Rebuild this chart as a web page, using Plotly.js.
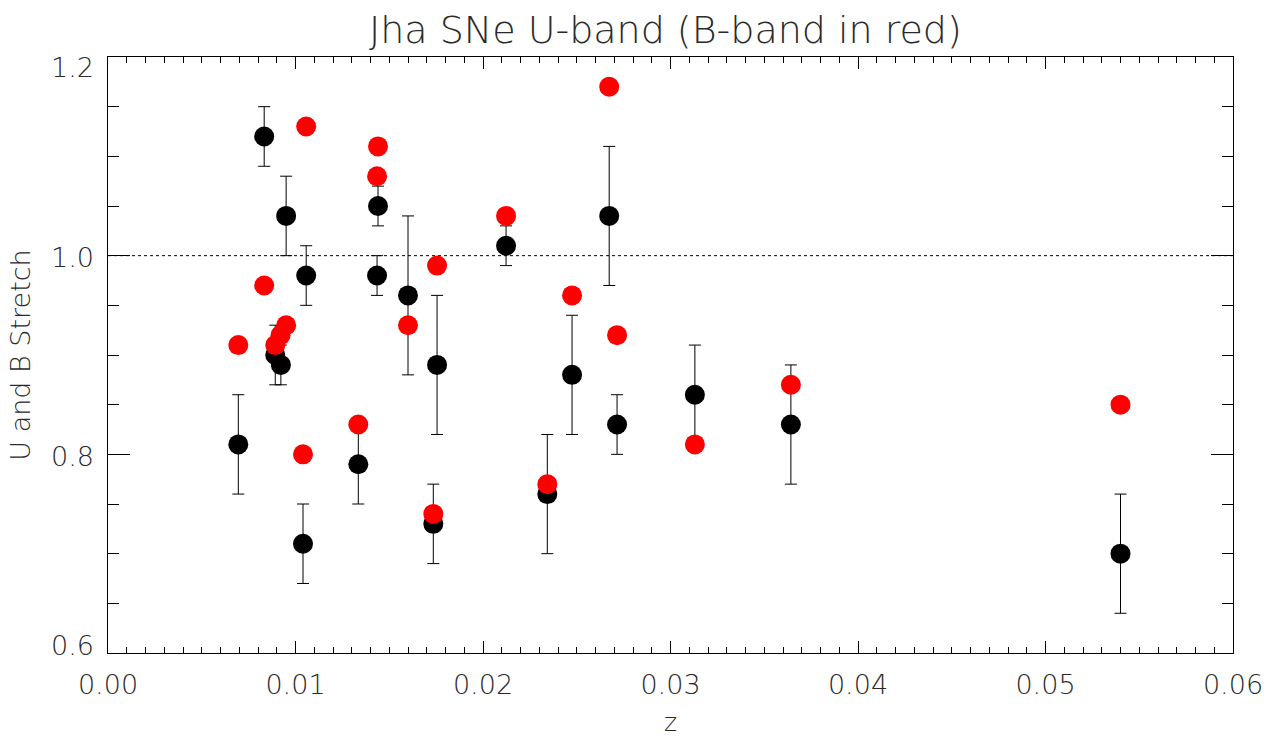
<!DOCTYPE html>
<html><head><meta charset="utf-8">
<script src="https://cdn.plot.ly/plotly-3.0.1.min.js"></script>
<style>html,body{margin:0;padding:0;background:#fff}#chart{width:1265px;height:740px}</style>
</head><body><div id="chart"></div>
<script>
// U-band (black, with errors)
const zU =   [0.00695,0.00833,0.0095,0.01057,0.0104,0.00892,0.00922,0.01335,0.01435,0.0144,0.0160,0.01755,0.01735,0.02123,0.02343,0.02475,0.02673,0.02715,0.0313,0.03642,0.0540];
const sU =   [0.81,1.12,1.04,0.98,0.71,0.90,0.89,0.79,0.98,1.05,0.96,0.89,0.73,1.01,0.76,0.88,1.04,0.83,0.86,0.83,0.70];
const errU = [0.05,0.03,0.04,0.03,0.04,0.03,0.02,0.04,0.02,0.02,0.08,0.07,0.04,0.02,0.06,0.06,0.07,0.03,0.05,0.06,0.06];
// B-band (red)
const zB =   [0.00695,0.00833,0.00892,0.0092,0.0095,0.01057,0.0104,0.01335,0.01435,0.0144,0.0160,0.01755,0.01735,0.02123,0.02343,0.02475,0.02673,0.02715,0.0313,0.03642,0.0540];
const sB =   [0.91,0.97,0.91,0.92,0.93,1.13,0.80,0.83,1.08,1.11,0.93,0.99,0.74,1.04,0.77,0.96,1.17,0.92,0.81,0.87,0.85];
// axis tick labels
const yTickVals = [0.6, 0.8, 1.0, 1.2];
const yTickText = ['0.6', '0.8', '1.0', '1.2'];

const fontFam = '"DejaVu Sans", sans-serif';
const txt = '#2a2a2a';
const W = 200;

const traces = [
  {x: zU, y: sU, type: 'scatter', mode: 'markers',
   marker: {color: '#000', size: 20},
   error_y: {type: 'data', array: errU, visible: true, color: '#000', thickness: 1, width: 6}},
  {x: zB, y: sB, type: 'scatter', mode: 'markers',
   marker: {color: '#ff0000', size: 20}}
];

const axCommon = {
  showgrid: false, zeroline: false, showline: true, linecolor: '#000', linewidth: 1,
  mirror: 'allticks', ticks: 'inside', tickcolor: '#000', tickwidth: 1,
  tickfont: {family: fontFam, size: 27, color: txt, weight: W}
};

// y tick labels as annotations, kept inside the frame at the ends (as IDL does)
const annotations = yTickVals.map((v, i) => ({
  xref: 'paper', x: 0, xanchor: 'right', xshift: -12,
  yref: 'y', y: v, yanchor: 'middle',
  yshift: i === 0 ? 8 : (i === yTickVals.length - 1 ? -10 : -2),
  text: yTickText[i], showarrow: false,
  font: {family: fontFam, size: 27, color: txt, weight: W}
}));

const layout = {
  width: 1265, height: 740,
  margin: {l: 108, r: 32, t: 57, b: 87},
  paper_bgcolor: '#fff', plot_bgcolor: '#fff',
  showlegend: false,
  title: {text: 'Jha SNe U-band (B-band in red)', x: 0.526, xanchor: 'center', y: 0.96, yanchor: 'middle',
          font: {family: fontFam, size: 38, color: txt, weight: W}},
  xaxis: Object.assign({}, axCommon, {
    range: [0, 0.06], dtick: 0.01, tick0: 0, tickformat: '.2f', ticklen: 12,
    ticklabelstandoff: 8,
    minor: {dtick: 0.001, ticklen: 6, ticks: 'inside', tickcolor: '#000', tickwidth: 1},
    title: {text: 'z', font: {family: fontFam, size: 25, color: txt, weight: W}, standoff: 14}
  }),
  yaxis: Object.assign({}, axCommon, {
    range: [0.6, 1.2], tickvals: yTickVals, showticklabels: false, ticklen: 22,
    minor: {dtick: 0.05, ticklen: 11, ticks: 'inside', tickcolor: '#000', tickwidth: 1},
    title: {text: 'U and B Stretch', font: {family: fontFam, size: 27, color: txt, weight: W}, standoff: 68}
  }),
  annotations: annotations,
  shapes: [{type: 'line', xref: 'paper', x0: 0, x1: 1, yref: 'y', y0: 1.0, y1: 1.0,
            line: {color: '#000', width: 1, dash: 'dot'}, layer: 'below'}]
};

Plotly.newPlot('chart', traces, layout, {displayModeBar: false, staticPlot: true});
</script></body></html>
